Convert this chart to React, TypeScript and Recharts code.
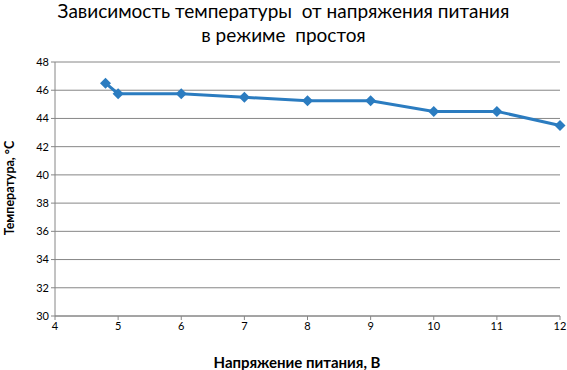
import React from 'react';
import { LineChart, Line, XAxis, YAxis, CartesianGrid } from 'recharts';

const voltage = [4.8, 5, 6, 7, 8, 9, 10, 11, 12];
const temperature = [46.5, 45.75, 45.75, 45.5, 45.25, 45.25, 44.5, 44.5, 43.5];
const xTicks = [4, 5, 6, 7, 8, 9, 10, 11, 12];
const yTicks = [30, 32, 34, 36, 38, 40, 42, 44, 46, 48];

const data = voltage.map((v, i) => ({ v, t: temperature[i] }));

const font = 'Lato, "Open Sans", sans-serif';
const blue = '#2b7cc0';

function Diamond(props: any) {
  const { cx, cy } = props;
  if (cx == null || cy == null) return null;
  const r = 5.5;
  return <polygon points={`${cx},${cy - r} ${cx + r},${cy} ${cx},${cy + r} ${cx - r},${cy}`} fill={blue} />;
}

export default function App() {
  return (
    <div style={{ position: 'absolute', left: 0, top: 0, width: 567, height: 370, background: '#fff', fontFamily: font }}>
      <div style={{ position: 'absolute', left: 0, top: -1, width: 567, textAlign: 'center', fontSize: 19, lineHeight: '24px', color: '#000', whiteSpace: 'pre' }}>
        {'Зависимость температуры  от напряжения питания\nв режиме  простоя'}
      </div>
      <div style={{ position: 'absolute', left: 297, top: 362, transform: 'translate(-50%, -50%)', whiteSpace: 'nowrap', fontSize: 15, fontWeight: 700, color: '#000' }}>
        Напряжение питания, В
      </div>
      <div style={{ position: 'absolute', left: 9, top: 188, transform: 'translate(-50%, -50%) rotate(-90deg)', whiteSpace: 'nowrap', fontSize: 12.5, fontWeight: 700, color: '#000' }}>
        Температура, °С
      </div>
      <div style={{ position: 'absolute', left: 0, top: 0 }}>
        <LineChart width={567} height={370} data={data} margin={{ top: 62, right: 7, bottom: 24, left: 0 }}>
          <CartesianGrid vertical={false} stroke="#868686" strokeWidth={1} />
          <XAxis
            dataKey="v"
            type="number"
            domain={[4, 12]}
            ticks={xTicks}
            height={30}
            stroke="#868686"
            tickSize={4}
            tick={{ fill: '#000', fontSize: 11, fontFamily: font }}
          />
          <YAxis
            type="number"
            domain={[30, 48]}
            ticks={yTicks}
            width={55}
            stroke="#868686"
            tickSize={4}
            tick={{ fill: '#000', fontSize: 11, fontFamily: font }}
          />
          <Line
            dataKey="t"
            stroke={blue}
            strokeWidth={3}
            dot={<Diamond />}
            activeDot={false}
            isAnimationActive={false}
          />
        </LineChart>
      </div>
    </div>
  );
}
